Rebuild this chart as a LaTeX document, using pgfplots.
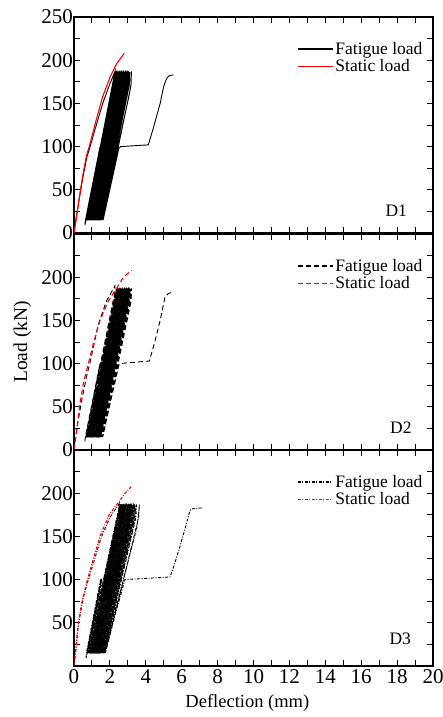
\documentclass[border=0pt]{standalone}
\usepackage{fontspec}
\setmainfont{Liberation Serif}
\usepackage{pgfplots}
\pgfplotsset{compat=1.18}

\pgfplotsset{
 panel/.style={
  scale only axis, width=359pt, height=216pt,
  xmin=0, xmax=20, ymin=0, ymax=250,
  xtick={0,2,...,20}, minor xtick={1,3,...,19},
  tick align=inside,
  major tick length=6pt, minor tick length=6pt,
  tick style={black, line width=0.9pt},
  axis line style={line width=1.2pt},
  ticklabel style={font=\fontsize{21}{21}\selectfont},
  /pgf/number format/assume math mode=true,
  yticklabel style={inner xsep=1pt},
  legend style={draw=none, fill=none, font=\fontsize{17.5}{18}\selectfont,
    at={(rel axis cs:0.985,0.903)}, anchor=north east, row sep=0pt},
  legend cell align=left,
  legend image code/.code={\draw[##1] (0pt,0pt) -- (35pt,0pt);},
 },
}
\tikzset{dl/.style={anchor=south east, inner sep=0pt, font=\fontsize{17.5}{18}\selectfont}}

\begin{document}
\begin{tikzpicture}
% ---------------- D1 ----------------
\begin{axis}[panel, at={(0pt,433pt)}, anchor=south west,
  ytick={0,50,...,250}, minor ytick={25,75,...,225},
  xticklabels={}]
\addlegendimage{black, line width=1.1pt}
\addlegendentry{Fatigue load}
\addlegendimage{red, line width=1.1pt}
\addlegendentry{Static load}
\addplot[black, line width=0.9pt, forget plot] coordinates {
 (0,0) (0.1,15) (0.3,40) (0.5,65) (0.72,88) (0.9,100) (1.2,122) (1.6,150) (1.95,170) (2.28,187)
 (2.2,178) (0.61,9)
 (0.63,14) (1.45,100) (1.42,96) (0.66,15) (1.48,101) (1.45,97) (0.68,15)
 (0.70,15) (2.32,187) (2.30,172) (0.77,15)
 (0.74,15) (2.36,186) (2.34,172) (0.81,15)
 (0.78,15) (2.40,188) (2.38,172) (0.85,15)
 (0.82,15) (2.44,187) (2.42,172) (0.89,15)
 (0.86,15) (2.48,186) (2.46,172) (0.93,15)
 (0.90,15) (2.52,188) (2.50,172) (0.97,15)
 (0.94,15) (2.56,187) (2.54,172) (1.01,15)
 (0.98,15) (2.60,186) (2.58,172) (1.05,15)
 (1.02,15) (2.64,188) (2.62,172) (1.09,15)
 (1.06,15) (2.68,187) (2.66,172) (1.13,15)
 (1.10,15) (2.72,186) (2.70,172) (1.17,15)
 (1.14,15) (2.76,188) (2.74,172) (1.21,15)
 (1.18,15) (2.80,187) (2.78,172) (1.25,15)
 (1.22,15) (2.84,186) (2.82,172) (1.29,15)
 (1.26,15) (2.88,188) (2.86,172) (1.33,15)
 (1.30,15) (2.92,187) (2.90,172) (1.37,15)
 (1.34,15) (2.96,186) (2.94,172) (1.41,15)
 (1.38,15) (3.00,188) (2.98,172) (1.45,15)
 (1.43,15) (3.05,187) (3.03,172) (1.50,15)
 (1.49,15) (3.11,186) (3.09,172) (1.55,15)
 (1.55,15) (3.08,160) (3.18,173) (3.20,187) (3.17,170) (1.62,15)
 (2.1,60) (2.5,98) (2.6,100) (4.14,102) (4.4,120) (4.8,150) (5.0,170) (5.16,179) (5.3,182) (5.53,183)
};
\addplot[red, line width=1.1pt, forget plot] coordinates {
 (0,0) (0.15,20) (0.3,42) (0.5,68) (0.7,90) (0.85,100) (1.2,128) (1.6,158) (2.0,180) (2.35,195) (2.8,208)
};
\node[dl] at (rel axis cs:0.928,0.075) {D1};
\end{axis}
% ---------------- D2 ----------------
\begin{axis}[panel, at={(0pt,216pt)}, anchor=south west,
  ytick={0,50,...,200}, minor ytick={25,75,...,225},
  xticklabels={},
  ylabel={Load (kN)},
  ylabel style={at={(axis description cs:-0.1435,0.5)}, anchor=center, font=\fontsize{19.5}{20}\selectfont}]
\addlegendimage{black, line width=1.1pt, dash pattern=on 5pt off 3pt}
\addlegendentry{Fatigue load}
\addlegendimage{red, line width=1.1pt, dash pattern=on 5pt off 3pt}
\addlegendentry{Static load}
\addplot[black, line width=0.9pt, dash pattern=on 5pt off 3pt, forget plot] coordinates {
 (0,0) (0.2,30) (0.45,60) (0.7,85) (0.88,100) (1.35,145) (1.8,172) (2.28,190)
 (2.25,180) (0.61,10)
 (0.63,15) (1.45,100) (1.42,96) (0.66,15) (1.48,101) (1.45,97) (0.67,15)
 (0.68,15) (2.36,187) (2.34,172) (0.75,15)
 (0.72,15) (2.40,186) (2.38,172) (0.79,15)
 (0.76,15) (2.44,188) (2.42,172) (0.83,15)
 (0.80,15) (2.48,187) (2.46,172) (0.87,15)
 (0.84,15) (2.52,186) (2.50,172) (0.91,15)
 (0.88,15) (2.56,188) (2.54,172) (0.95,15)
 (0.92,15) (2.60,187) (2.58,172) (0.99,15)
 (0.96,15) (2.64,186) (2.62,172) (1.03,15)
 (1.00,15) (2.68,188) (2.66,172) (1.07,15)
 (1.04,15) (2.72,187) (2.70,172) (1.11,15)
 (1.08,15) (2.76,186) (2.74,172) (1.15,15)
 (1.12,15) (2.80,188) (2.78,172) (1.19,15)
 (1.16,15) (2.84,187) (2.82,172) (1.23,15)
 (1.20,15) (2.88,186) (2.86,172) (1.27,15)
 (1.24,15) (2.92,188) (2.90,172) (1.31,15)
 (1.28,15) (2.96,187) (2.94,172) (1.35,15)
 (1.32,15) (3.00,186) (2.98,172) (1.39,15)
 (1.36,15) (3.04,188) (3.02,172) (1.43,15)
 (1.41,15) (3.09,187) (3.07,172) (1.48,15)
 (1.47,15) (3.15,186) (3.13,172) (1.53,15)
 (1.53,15) (3.10,165) (3.21,187) (3.18,172) (1.60,15)
 (2.1,62) (2.52,100) (4.2,103) (4.5,125) (4.8,150) (5.07,177) (5.25,181) (5.53,183)
};
\addplot[black, line width=0.9pt, dash pattern=on 5pt off 3pt, forget plot] coordinates {
 (0.70,15) (2.38,187) (2.36,172) (0.77,15)
 (0.74,15) (2.42,186) (2.40,172) (0.81,15)
 (0.78,15) (2.46,188) (2.44,172) (0.85,15)
 (0.82,15) (2.50,187) (2.48,172) (0.89,15)
 (0.86,15) (2.54,186) (2.52,172) (0.93,15)
 (0.90,15) (2.58,188) (2.56,172) (0.97,15)
 (0.94,15) (2.62,187) (2.60,172) (1.01,15)
 (0.98,15) (2.66,186) (2.64,172) (1.05,15)
 (1.02,15) (2.70,188) (2.68,172) (1.09,15)
 (1.06,15) (2.74,187) (2.72,172) (1.13,15)
 (1.10,15) (2.78,186) (2.76,172) (1.17,15)
 (1.14,15) (2.82,188) (2.80,172) (1.21,15)
 (1.18,15) (2.86,187) (2.84,172) (1.25,15)
 (1.22,15) (2.90,186) (2.88,172) (1.29,15)
 (1.26,15) (2.94,188) (2.92,172) (1.33,15)
 (1.30,15) (2.98,187) (2.96,172) (1.37,15)
 (1.34,15) (3.02,186) (3.00,172) (1.41,15)
 (1.38,15) (3.06,188) (3.04,172) (1.45,15)
 (1.44,15) (3.12,187) (3.10,172) (1.51,15)
};
\addplot[red, line width=1.1pt, dash pattern=on 5pt off 3pt, forget plot] coordinates {
 (0,0) (0.15,23) (0.33,54) (0.55,80) (0.8,100) (1.1,125) (1.45,150) (1.9,172) (2.4,188) (2.75,200) (3.21,208)
};
\node[dl] at (rel axis cs:0.941,0.077) {D2};
\end{axis}
% ---------------- D3 ----------------
\begin{axis}[panel, at={(0pt,0pt)}, anchor=south west,
  ytick={50,100,...,200}, minor ytick={25,75,...,225},
  xlabel={Deflection (mm)},
  xlabel style={at={(axis description cs:0.483,0)}, anchor=center, yshift=-37pt, font=\fontsize{18.5}{19}\selectfont}]
\addlegendimage{black, line width=1.1pt, dash pattern=on 3pt off 1.5pt on 1pt off 1.5pt}
\addlegendentry{Fatigue load}
\addlegendimage{red, line width=1.1pt, dash pattern=on 3pt off 1.5pt on 1pt off 1.5pt}
\addlegendentry{Static load}
\addplot[black, line width=0.9pt, dash pattern=on 3pt off 1.5pt on 1pt off 1.5pt, forget plot] coordinates {
 (0,0) (0.1,18) (0.25,48) (0.5,78) (0.8,100) (1.1,120) (1.5,148) (2.0,172) (2.52,188)
 (2.48,178) (0.67,9)
 (0.69,15) (1.49,101) (1.46,96) (0.72,15) (1.55,101) (1.52,96) (0.75,15)
 (0.77,15) (2.54,187) (2.52,172) (0.84,15)
 (0.815,15) (2.585,186) (2.565,172) (0.885,15)
 (0.86,15) (2.63,188) (2.61,172) (0.93,15)
 (0.905,15) (2.675,187) (2.655,172) (0.975,15)
 (0.95,15) (2.72,186) (2.70,172) (1.02,15)
 (0.995,15) (2.765,188) (2.745,172) (1.065,15)
 (1.04,15) (2.81,187) (2.79,172) (1.11,15)
 (1.085,15) (2.855,186) (2.835,172) (1.155,15)
 (1.13,15) (2.90,188) (2.88,172) (1.20,15)
 (1.175,15) (2.945,187) (2.925,172) (1.245,15)
 (1.22,15) (2.99,186) (2.97,172) (1.29,15)
 (1.265,15) (3.035,188) (3.015,172) (1.335,15)
 (1.31,15) (3.08,187) (3.06,172) (1.38,15)
 (1.355,15) (3.125,186) (3.105,172) (1.425,15)
 (1.40,15) (3.17,188) (3.15,172) (1.47,15)
 (1.445,15) (3.215,187) (3.195,172) (1.515,15)
 (1.49,15) (3.26,186) (3.24,172) (1.56,15)
 (1.535,15) (3.305,188) (3.285,172) (1.605,15)
 (1.58,15) (3.35,187) (3.33,172) (1.65,15)
 (1.63,15) (3.40,186) (3.38,172) (1.68,15)
 (1.66,15) (3.35,165) (3.48,187) (3.45,172) (1.70,15)
 (3.5,160) (3.62,180) (3.64,187) (3.60,172) (1.75,15)
 (2.3,60) (2.84,100) (5.35,103) (5.6,118) (5.9,138) (6.2,160) (6.46,180) (6.6,182) (7.11,183)
};
\addplot[black, line width=0.9pt, dash pattern=on 3pt off 1.5pt on 1pt off 1.5pt, forget plot] coordinates {
 (0.79,15) (2.56,187) (2.54,172) (0.86,15)
 (0.84,15) (2.61,186) (2.59,172) (0.91,15)
 (0.88,15) (2.65,188) (2.63,172) (0.95,15)
 (0.93,15) (2.70,187) (2.68,172) (1.00,15)
 (0.97,15) (2.74,186) (2.72,172) (1.04,15)
 (1.02,15) (2.79,188) (2.77,172) (1.09,15)
 (1.06,15) (2.83,187) (2.81,172) (1.13,15)
 (1.11,15) (2.88,186) (2.86,172) (1.18,15)
 (1.15,15) (2.92,188) (2.90,172) (1.22,15)
 (1.20,15) (2.97,187) (2.95,172) (1.27,15)
 (1.24,15) (3.01,186) (2.99,172) (1.31,15)
 (1.29,15) (3.06,188) (3.04,172) (1.36,15)
 (1.33,15) (3.10,187) (3.08,172) (1.40,15)
 (1.38,15) (3.15,186) (3.13,172) (1.45,15)
 (1.42,15) (3.19,188) (3.17,172) (1.49,15)
 (1.47,15) (3.24,187) (3.22,172) (1.54,15)
 (1.51,15) (3.28,186) (3.26,172) (1.58,15)
 (1.56,15) (3.33,188) (3.31,172) (1.63,15)
 (1.60,15) (3.37,187) (3.35,172) (1.67,15)
};
\addplot[red, line width=1.1pt, dash pattern=on 3pt off 1.5pt on 1pt off 1.5pt, forget plot] coordinates {
 (0,0) (0.1,20) (0.24,50) (0.45,75) (0.75,100) (1.05,122) (1.45,150) (1.95,175) (2.5,190) (2.85,200) (3.21,208)
};
\node[dl] at (rel axis cs:0.939,0.097) {D3};
\end{axis}
\pgfresetboundingbox
\useasboundingbox (-74pt,-51pt) rectangle (369pt,666pt);
\end{tikzpicture}
\end{document}
